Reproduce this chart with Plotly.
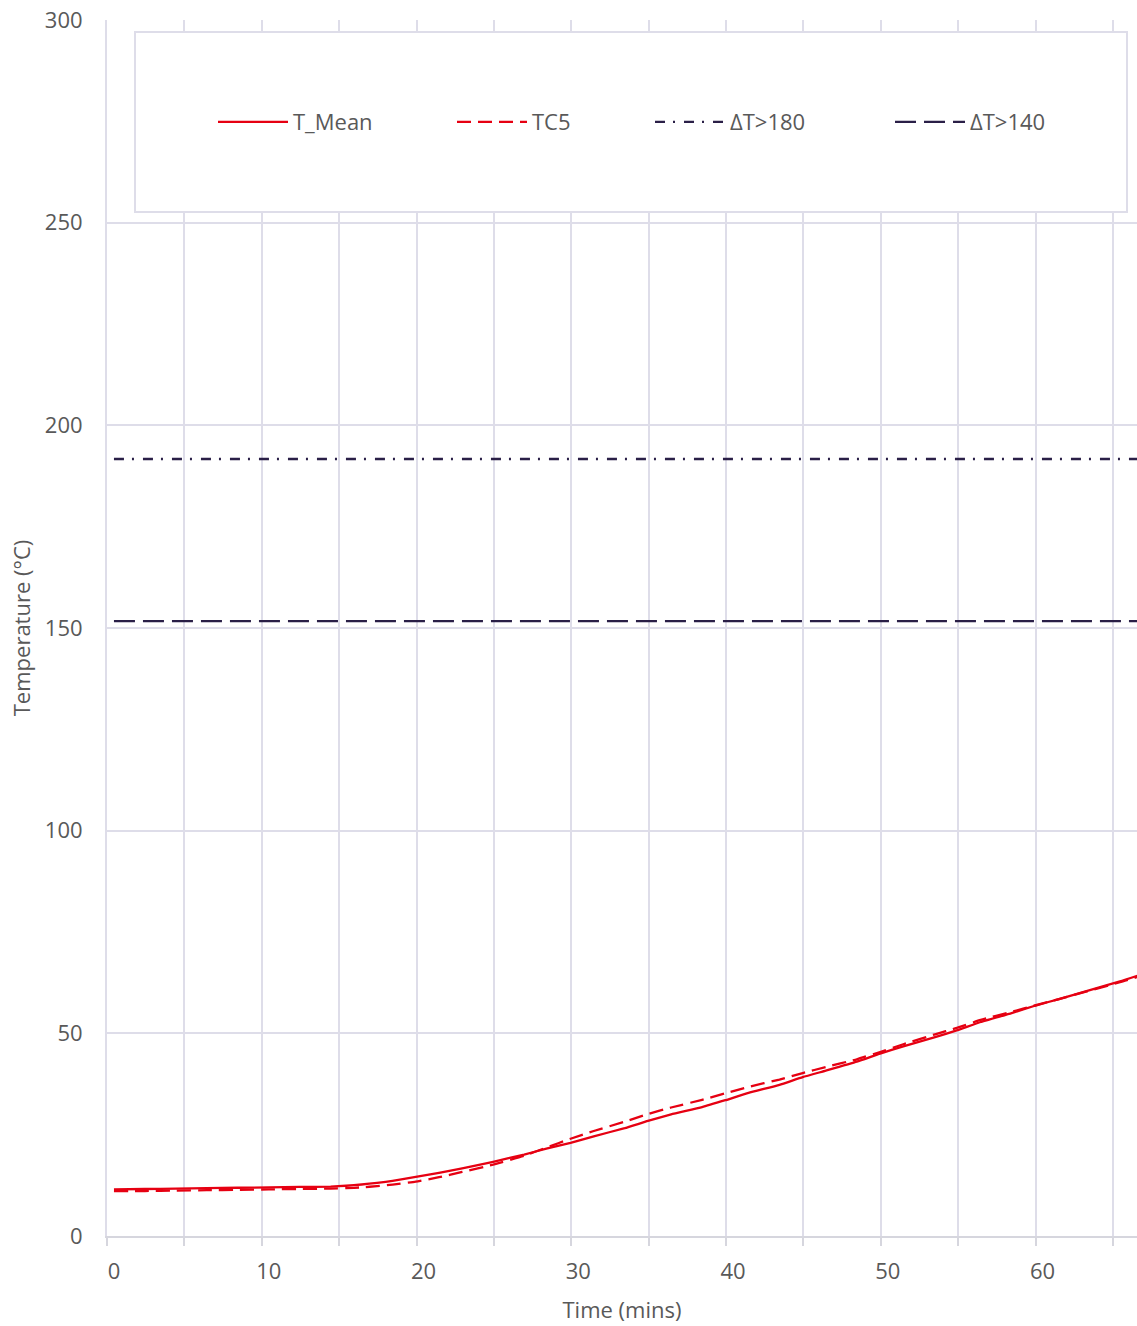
import plotly.graph_objects as go

# ---- data ----
time_mean = [0, 2, 4, 6, 8, 10, 12, 14, 15, 16, 17, 18, 19.5, 21, 22.5, 24.5, 26.5, 28, 29.5,
             31, 33, 34.5, 36, 38, 39.5, 41, 43, 44.5, 46, 48, 49.5, 51, 53, 54.5, 56, 58,
             59.5, 61, 63, 65, 66.2]
t_mean = [11.5, 11.6, 11.7, 11.8, 11.9, 12.0, 12.1, 12.2, 12.4, 12.7, 13.1, 13.6, 14.6, 15.6,
          16.7, 18.3, 20.1, 21.6, 23.0, 24.6, 26.6, 28.4, 30.0, 31.8, 33.5, 35.3, 37.3, 39.2,
          40.8, 43.0, 45.0, 46.8, 49.0, 50.8, 52.8, 55.0, 56.8, 58.4, 60.6, 62.8, 64.3]
tc5 = [11.1, 11.1, 11.2, 11.3, 11.4, 11.5, 11.6, 11.7, 11.8, 12.0, 12.3, 12.7, 13.4, 14.5,
       15.8, 17.6, 19.8, 21.9, 24.0, 25.9, 28.2, 30.1, 31.7, 33.6, 35.2, 36.8, 38.6, 40.2,
       41.7, 43.6, 45.4, 47.3, 49.7, 51.4, 53.3, 55.3, 56.9, 58.4, 60.5, 62.6, 64.0]
limit_time = [0, 66.2]
limit_180 = [191.7, 191.7]
limit_140 = [151.7, 151.7]

x_tick_vals = [0, 10, 20, 30, 40, 50, 60]
y_tick_vals = [0, 50, 100, 150, 200, 250, 300]

RED = "#e60012"
NAVY = "#2a1f47"
GRID = "#dedde9"
TXT = "#595959"
FONT = "Open Sans, sans-serif"
FS = 22

W, H = 1137, 1326
PLOT_L, PLOT_R, PLOT_T, PLOT_B = 107, 1137, 20, 1236
PW = PLOT_R - PLOT_L
PH = PLOT_B - PLOT_T


def px_to_paper_x(px):
    return (px - PLOT_L) / PW


def px_to_paper_y(py):
    return (PLOT_B - py) / PH


fig = go.Figure()
fig.add_trace(go.Scatter(x=time_mean, y=t_mean, name="T_Mean", mode="lines", legend="legend",
                         line=dict(color=RED, width=2.3, shape="spline", smoothing=0.4)))
fig.add_trace(go.Scatter(x=time_mean, y=tc5, name="TC5", mode="lines", legend="legend2",
                         line=dict(color=RED, width=2.3, dash="14px,7px", shape="spline", smoothing=0.4)))
fig.add_trace(go.Scatter(x=limit_time, y=limit_180, name="ΔT>180", mode="lines", legend="legend3",
                         line=dict(color=NAVY, width=2.3, dash="10px,8px,2px,9px")))
fig.add_trace(go.Scatter(x=limit_time, y=limit_140, name="ΔT>140", mode="lines", legend="legend4",
                         line=dict(color=NAVY, width=2.3, dash="21px,8px")))

# legend box
fig.add_shape(type="rect", xref="paper", yref="paper",
              x0=px_to_paper_x(135), x1=px_to_paper_x(1127),
              y0=px_to_paper_y(212), y1=px_to_paper_y(32),
              fillcolor="white", line=dict(color=GRID, width=2), layer="above")


def leg(px):
    return dict(orientation="h", x=px_to_paper_x(px - 5), y=px_to_paper_y(122),
                xanchor="left", yanchor="middle",
                bgcolor="rgba(0,0,0,0)", borderwidth=0, itemwidth=70,
                font=dict(family=FONT, size=FS, color=TXT))


fig.update_layout(
    width=W, height=H,
    margin=dict(l=PLOT_L, r=W - PLOT_R, t=PLOT_T, b=H - PLOT_B),
    paper_bgcolor="white", plot_bgcolor="white",
    font=dict(family=FONT, size=FS, color=TXT),
    showlegend=True,
    legend=leg(218), legend2=leg(457), legend3=leg(655), legend4=leg(895),
    xaxis=dict(
        range=[-0.45, 66.1],
        tickmode="array", tickvals=x_tick_vals, ticktext=[str(v) for v in x_tick_vals],
        showgrid=False, zeroline=False,
        showline=True, linecolor="#d6d6de", linewidth=2,
        ticks="", tickfont=dict(size=FS, color=TXT),
        ticklabelstandoff=15,
        minor=dict(tick0=-0.45, dtick=5, showgrid=True, gridcolor=GRID, gridwidth=2,
                   ticks="outside", ticklen=8, tickcolor="#d6d6de", tickwidth=2),
        title=dict(text="Time (mins)", font=dict(size=FS, color=TXT), standoff=18),
    ),
    yaxis=dict(
        range=[0, 300],
        tickmode="array", tickvals=y_tick_vals,
        showgrid=True, gridcolor=GRID, gridwidth=2,
        zeroline=False, showline=True, linecolor=GRID, linewidth=2,
        ticks="", tickfont=dict(size=FS, color=TXT),
        ticklabelstandoff=18,
        title=dict(text="Temperature (°C)", font=dict(size=FS, color=TXT), standoff=8),
    ),
)

fig.write_html("out.html", config={"displayModeBar": False},
               post_script="document.body.style.margin='0px';")
